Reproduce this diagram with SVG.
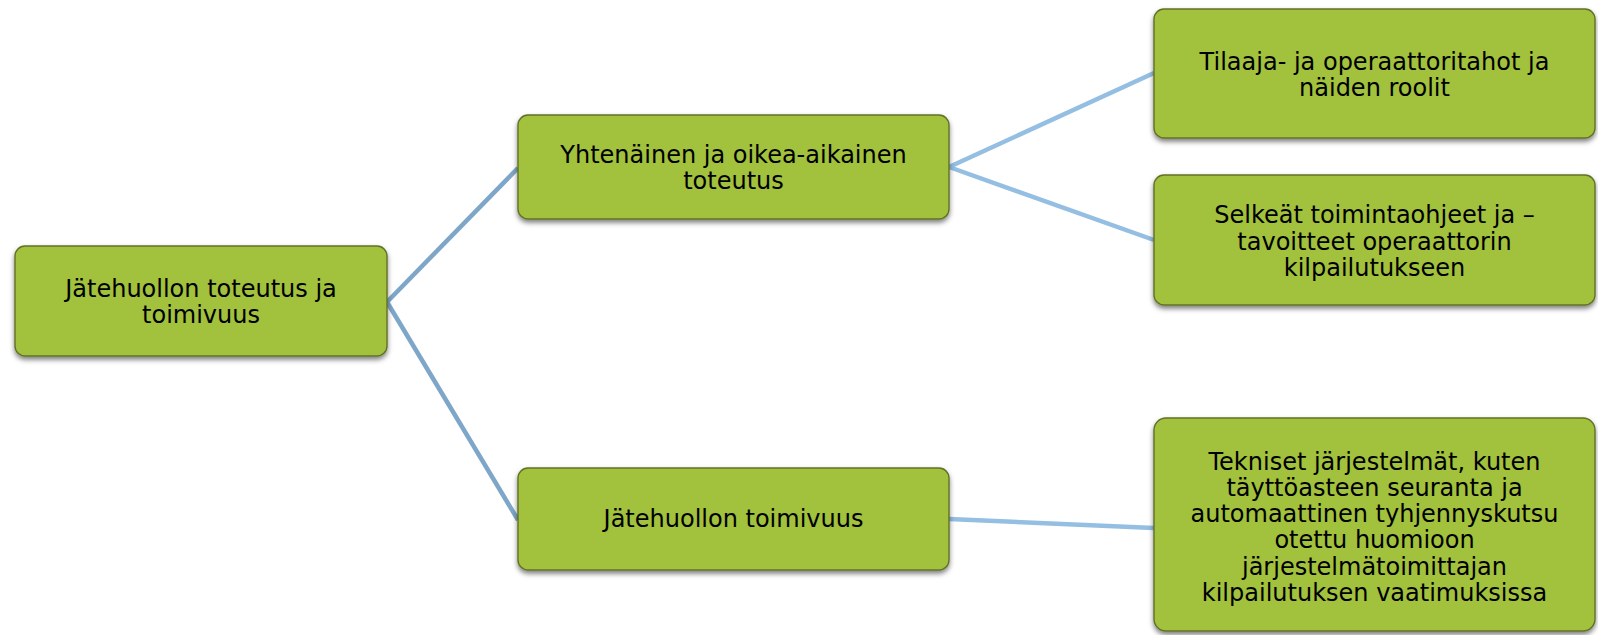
<svg xmlns="http://www.w3.org/2000/svg" width="1598" height="635" viewBox="0 0 1598 635">
<defs>
<filter id="sh" x="-10%" y="-10%" width="120%" height="130%">
<feDropShadow dx="0" dy="3" stdDeviation="2.5" flood-color="#000" flood-opacity="0.5"/>
</filter>
<style>
.box{fill:#a2c13e;stroke:#617126;stroke-width:1.4;filter:url(#sh)}
.t{font-family:"DejaVu Sans","Verdana",sans-serif;font-size:24px;fill:#000;text-anchor:middle}
.c1{stroke:#7ea6c8;stroke-width:4.5;fill:none}
.c2{stroke:#94bee2;stroke-width:4.5;fill:none}
</style>
</defs>
<rect width="1598" height="635" fill="#fff"/>
<g id="connectors">
<line class="c1" x1="387" y1="302" x2="518" y2="168"/>
<line class="c1" x1="387" y1="302" x2="518" y2="520"/>
<line class="c2" x1="949" y1="167" x2="1154" y2="73"/>
<line class="c2" x1="949" y1="167" x2="1154" y2="240"/>
<line class="c2" x1="949" y1="519" x2="1154" y2="528"/>
</g>
<g id="root">
<rect class="box" x="15" y="246" width="372" height="110" rx="10"/>
<text class="t" x="201" y="297">Jätehuollon toteutus ja</text>
<text class="t" x="201" y="323">toimivuus</text>
</g>
<g id="yhtenainen">
<rect class="box" x="518" y="115" width="431" height="104" rx="10"/>
<text class="t" x="733.5" y="163">Yhtenäinen ja oikea-aikainen</text>
<text class="t" x="733.5" y="189">toteutus</text>
</g>
<g id="toimivuus">
<rect class="box" x="518" y="468" width="431" height="102" rx="10"/>
<text class="t" x="733.5" y="527">Jätehuollon toimivuus</text>
</g>
<g id="tilaaja">
<rect class="box" x="1154" y="9" width="441" height="129" rx="10"/>
<text class="t" x="1374.5" y="70">Tilaaja- ja operaattoritahot ja</text>
<text class="t" x="1374.5" y="96">näiden roolit</text>
</g>
<g id="selkeat">
<rect class="box" x="1154" y="175" width="441" height="130" rx="10"/>
<text class="t" x="1374.5" y="223">Selkeät toimintaohjeet ja –</text>
<text class="t" x="1374.5" y="250">tavoitteet operaattorin</text>
<text class="t" x="1374.5" y="276">kilpailutukseen</text>
</g>
<g id="tekniset">
<rect class="box" x="1154" y="418" width="441" height="213" rx="12"/>
<text class="t" x="1374.5" y="470">Tekniset järjestelmät, kuten</text>
<text class="t" x="1374.5" y="496">täyttöasteen seuranta ja</text>
<text class="t" x="1374.5" y="522">automaattinen tyhjennyskutsu</text>
<text class="t" x="1374.5" y="548">otettu huomioon</text>
<text class="t" x="1374.5" y="575">järjestelmätoimittajan</text>
<text class="t" x="1374.5" y="601">kilpailutuksen vaatimuksissa</text>
</g>
</svg>
